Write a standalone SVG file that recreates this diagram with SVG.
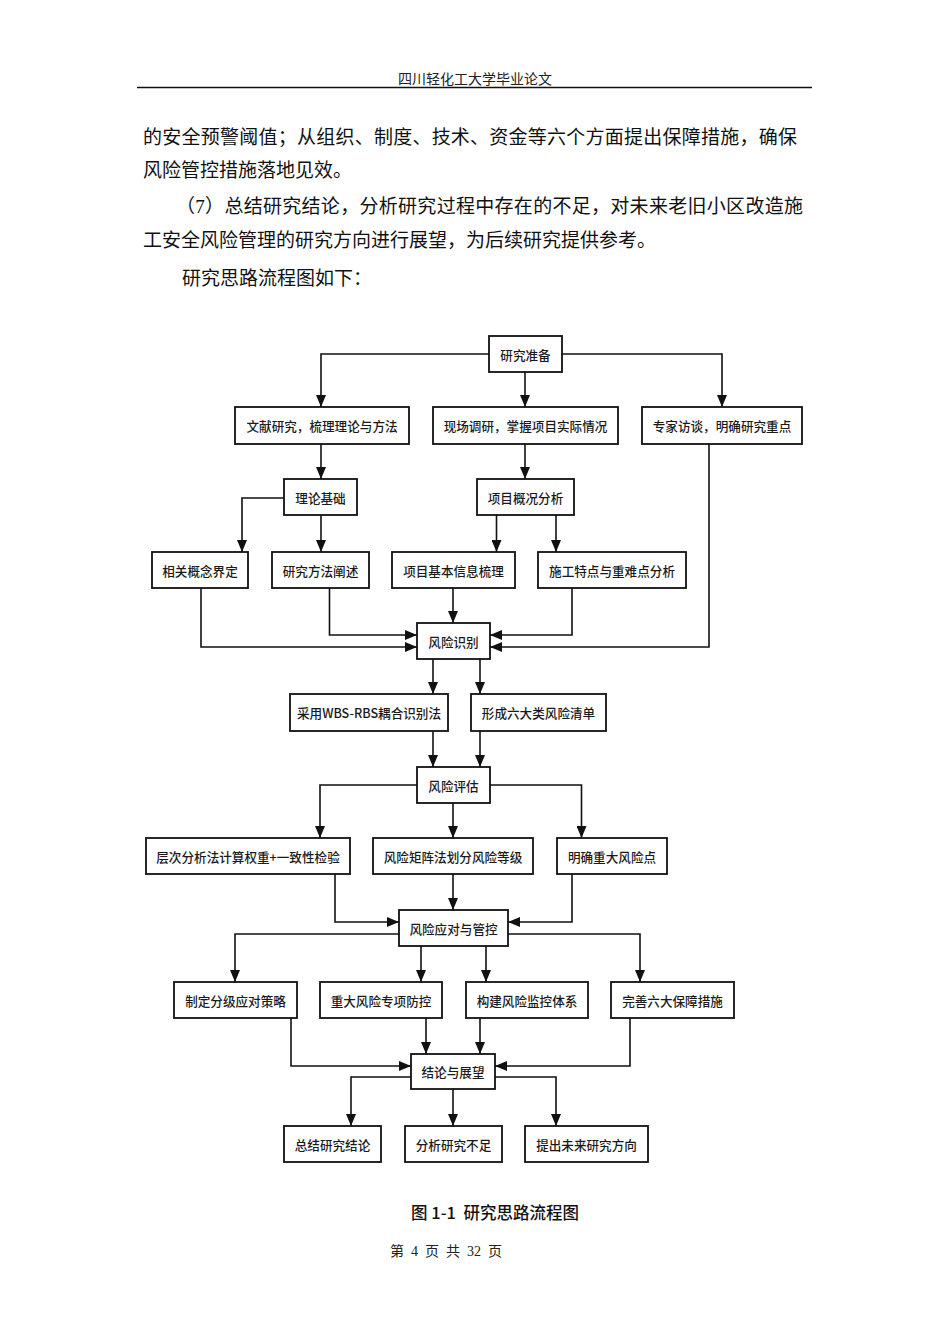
<svg xmlns="http://www.w3.org/2000/svg" width="950" height="1344" viewBox="0 0 950 1344">
<style>
.body{font-family:"Liberation Serif","Noto Sans CJK SC",serif;font-size:19px;fill:#111;dominant-baseline:central}
.hdr{font-family:"Liberation Serif","Noto Sans CJK SC",serif;font-size:14px;fill:#222;dominant-baseline:central;text-anchor:middle}
.box rect{fill:#fff;stroke:#111;stroke-width:1.8}
.box text{font-family:"Noto Sans CJK SC","Liberation Sans",sans-serif;font-size:12.6px;font-weight:500;fill:#1a1a1a;text-anchor:middle;dominant-baseline:central}
.conn path{fill:none;stroke:#111;stroke-width:1.6}
.arr{marker-end:url(#ah)}
</style>
<defs>
<marker id="ah" viewBox="0 0 12 10" refX="12" refY="5" markerWidth="12" markerHeight="10" markerUnits="userSpaceOnUse" orient="auto"><path d="M0,0 L12,5 L0,10 z" fill="#111"/></marker>
</defs>
<rect width="950" height="1344" fill="#fff"/>
<g id="page">
<text class="hdr" x="475" y="79">四川轻化工大学毕业论文</text>
<line x1="137" y1="87.5" x2="812" y2="87.5" stroke="#111" stroke-width="1.5"/>
<text class="body" x="143" y="137" textLength="654" lengthAdjust="spacing">的安全预警阈值；从组织、制度、技术、资金等六个方面提出保障措施，确保</text>
<text class="body" x="143" y="170">风险管控措施落地见效。</text>
<text class="body" x="176" y="206" textLength="627" lengthAdjust="spacing">（7）总结研究结论，分析研究过程中存在的不足，对未来老旧小区改造施</text>
<text class="body" x="143" y="240">工安全风险管理的研究方向进行展望，为后续研究提供参考。</text>
<text class="body" x="182" y="278">研究思路流程图如下：</text>
</g>
<g id="connectors" class="conn">
<path class="arr" d="M489,354 H321 V407"/>
<path class="arr" d="M562,354 H722 V407"/>
<path class="arr" d="M525,372 V407"/>
<path class="arr" d="M321,444 V479"/>
<path class="arr" d="M525,444 V479"/>
<path class="arr" d="M284,498 H242 V552"/>
<path class="arr" d="M321,515 V552"/>
<path class="arr" d="M496.5,515 V552"/>
<path class="arr" d="M556,515 V552"/>
<path class="arr" d="M201,588 V647 H417"/>
<path class="arr" d="M329.5,588 V635 H417"/>
<path class="arr" d="M453,588 V623"/>
<path class="arr" d="M572,588 V635 H490"/>
<path class="arr" d="M709,444 V647 H490"/>
<path class="arr" d="M433,659 V694"/>
<path class="arr" d="M480,659 V694"/>
<path class="arr" d="M433,731 V767"/>
<path class="arr" d="M480,731 V767"/>
<path class="arr" d="M417,785 H320 V838"/>
<path class="arr" d="M490,785 H581.5 V838"/>
<path class="arr" d="M453,803 V838"/>
<path class="arr" d="M335,874 V922 H399"/>
<path class="arr" d="M453,874 V910"/>
<path class="arr" d="M572,874 V922 H508"/>
<path class="arr" d="M399,934 H235 V982"/>
<path class="arr" d="M508,934 H640 V982"/>
<path class="arr" d="M421,946 V982"/>
<path class="arr" d="M486,946 V982"/>
<path class="arr" d="M291,1018 V1066 H411"/>
<path class="arr" d="M426,1018 V1054"/>
<path class="arr" d="M480,1018 V1054"/>
<path class="arr" d="M630,1018 V1066 H495"/>
<path class="arr" d="M411,1077 H351 V1126"/>
<path class="arr" d="M495,1077 H556 V1126"/>
<path class="arr" d="M453,1089 V1126"/>
</g>
<g id="n1" class="box"><rect x="489" y="336" width="73" height="36"/><text x="525.5" y="354">研究准备</text></g>
<g id="n2" class="box"><rect x="235" y="407" width="174" height="37"/><text x="322" y="425.5">文献研究，梳理理论与方法</text></g>
<g id="n3" class="box"><rect x="433" y="407" width="185" height="37"/><text x="525.5" y="425.5">现场调研，掌握项目实际情况</text></g>
<g id="n4" class="box"><rect x="642" y="407" width="160" height="37"/><text x="722" y="425.5">专家访谈，明确研究重点</text></g>
<g id="n5" class="box"><rect x="284" y="479" width="73" height="36"/><text x="320.5" y="497">理论基础</text></g>
<g id="n6" class="box"><rect x="477" y="479" width="97" height="36"/><text x="525.5" y="497">项目概况分析</text></g>
<g id="n7" class="box"><rect x="152" y="552" width="96" height="36"/><text x="200" y="570">相关概念界定</text></g>
<g id="n8" class="box"><rect x="272" y="552" width="97" height="36"/><text x="320.5" y="570">研究方法阐述</text></g>
<g id="n9" class="box"><rect x="392" y="552" width="123" height="36"/><text x="453.5" y="570">项目基本信息梳理</text></g>
<g id="n10" class="box"><rect x="538" y="552" width="148" height="36"/><text x="612" y="570">施工特点与重难点分析</text></g>
<g id="n11" class="box"><rect x="417" y="623" width="73" height="36"/><text x="453.5" y="641">风险识别</text></g>
<g id="n12" class="box"><rect x="290" y="694" width="158" height="37"/><text x="369" y="712.5">采用WBS-RBS耦合识别法</text></g>
<g id="n13" class="box"><rect x="471" y="694" width="135" height="37"/><text x="538.5" y="712.5">形成六大类风险清单</text></g>
<g id="n14" class="box"><rect x="417" y="767" width="73" height="36"/><text x="453.5" y="785">风险评估</text></g>
<g id="n15" class="box"><rect x="146" y="838" width="204" height="36"/><text x="248" y="856">层次分析法计算权重+一致性检验</text></g>
<g id="n16" class="box"><rect x="373" y="838" width="160" height="36"/><text x="453" y="856">风险矩阵法划分风险等级</text></g>
<g id="n17" class="box"><rect x="557" y="838" width="110" height="36"/><text x="612" y="856">明确重大风险点</text></g>
<g id="n18" class="box"><rect x="399" y="910" width="109" height="36"/><text x="453.5" y="928">风险应对与管控</text></g>
<g id="n19" class="box"><rect x="174" y="982" width="123" height="36"/><text x="235.5" y="1000">制定分级应对策略</text></g>
<g id="n20" class="box"><rect x="320" y="982" width="122" height="36"/><text x="381" y="1000">重大风险专项防控</text></g>
<g id="n21" class="box"><rect x="466" y="982" width="122" height="36"/><text x="527" y="1000">构建风险监控体系</text></g>
<g id="n22" class="box"><rect x="611" y="982" width="123" height="36"/><text x="672.5" y="1000">完善六大保障措施</text></g>
<g id="n23" class="box"><rect x="411" y="1054" width="84" height="35"/><text x="453" y="1071.5">结论与展望</text></g>
<g id="n24" class="box"><rect x="284" y="1126" width="97" height="36"/><text x="332.5" y="1144">总结研究结论</text></g>
<g id="n25" class="box"><rect x="405" y="1126" width="97" height="36"/><text x="453.5" y="1144">分析研究不足</text></g>
<g id="n26" class="box"><rect x="525" y="1126" width="123" height="36"/><text x="586.5" y="1144">提出未来研究方向</text></g>
<g id="caption">
<text x="495" y="1212" font-family="Noto Sans CJK SC, Liberation Sans, sans-serif" font-size="16.5" font-weight="500" fill="#111" text-anchor="middle" dominant-baseline="central" xml:space="preserve">图 1-1  研究思路流程图</text>
<text x="446" y="1251" font-family="Liberation Serif, Noto Sans CJK SC, serif" font-size="14" fill="#222" text-anchor="middle" dominant-baseline="central" xml:space="preserve">第  4  页  共  32  页</text>
</g>
</svg>
